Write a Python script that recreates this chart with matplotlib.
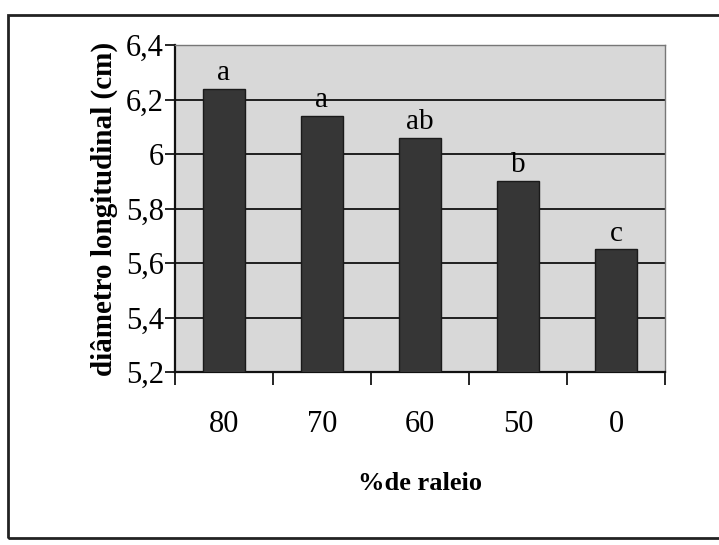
import matplotlib
matplotlib.use("Agg")
import matplotlib.pyplot as plt
from matplotlib.patches import Rectangle
import numpy as np

categories = ["80", "70", "60", "50", "0"]
values = [6.24, 6.14, 6.06, 5.90, 5.65]
letters = ["a", "a", "ab", "b", "c"]
yticks = [5.2, 5.4, 5.6, 5.8, 6.0, 6.2, 6.4]
ytick_labels = ["5,2", "5,4", "5,6", "5,8", "6", "6,2", "6,4"]

plt.rcParams['font.family'] = ['Liberation Serif', 'DejaVu Serif']

fig = plt.figure(figsize=(7.19, 5.45), dpi=100)
fig.patches.append(Rectangle((8/719, 7/545), 1.2, 523/545, transform=fig.transFigure,
                             fill=False, edgecolor='#222222', linewidth=2.0))

ax = fig.add_axes([175/719, 173/545, 490/719, 327/545])
ax.set_facecolor('#d8d8d8')
x = np.arange(len(categories))
ax.bar(x, values, width=0.43, bottom=0, color='#363636', edgecolor='#1a1a1a',
       linewidth=1.0, zorder=3)
ax.set_ylim(5.2, 6.4)
ax.set_xlim(-0.5, len(categories) - 0.5)
ax.set_yticks(yticks)
ax.set_yticklabels(ytick_labels, fontsize=22)
ax.yaxis.grid(True, color='#111111', linewidth=1.3, zorder=1)
ax.set_axisbelow(True)

ax.set_xticks(x)
ax.set_xticklabels(categories, fontsize=22)
ax.set_xticks(np.arange(-0.5, len(categories)), minor=True)
ax.tick_params(axis='x', which='major', length=0, pad=27)
ax.tick_params(axis='x', which='minor', length=9, width=1.2, direction='out')
ax.tick_params(axis='y', length=7, width=1.2, direction='out', pad=1)

for s in ['left', 'bottom']:
    ax.spines[s].set_linewidth(1.6)
    ax.spines[s].set_color('#111111')
for s in ['top', 'right']:
    ax.spines[s].set_linewidth(1.0)
    ax.spines[s].set_color('#777777')

for xi, v, l in zip(x, values, letters):
    ax.annotate(l, (xi, v), xytext=(0, 2), textcoords='offset points',
                ha='center', va='bottom', fontsize=21, zorder=4)

ax.set_xlabel("%de raleio", fontsize=19, fontweight='bold', labelpad=24)
ax.set_ylabel("diâmetro longitudinal (cm)", fontsize=21, fontweight='bold', labelpad=6)

fig.savefig("out.png", dpi=100)
